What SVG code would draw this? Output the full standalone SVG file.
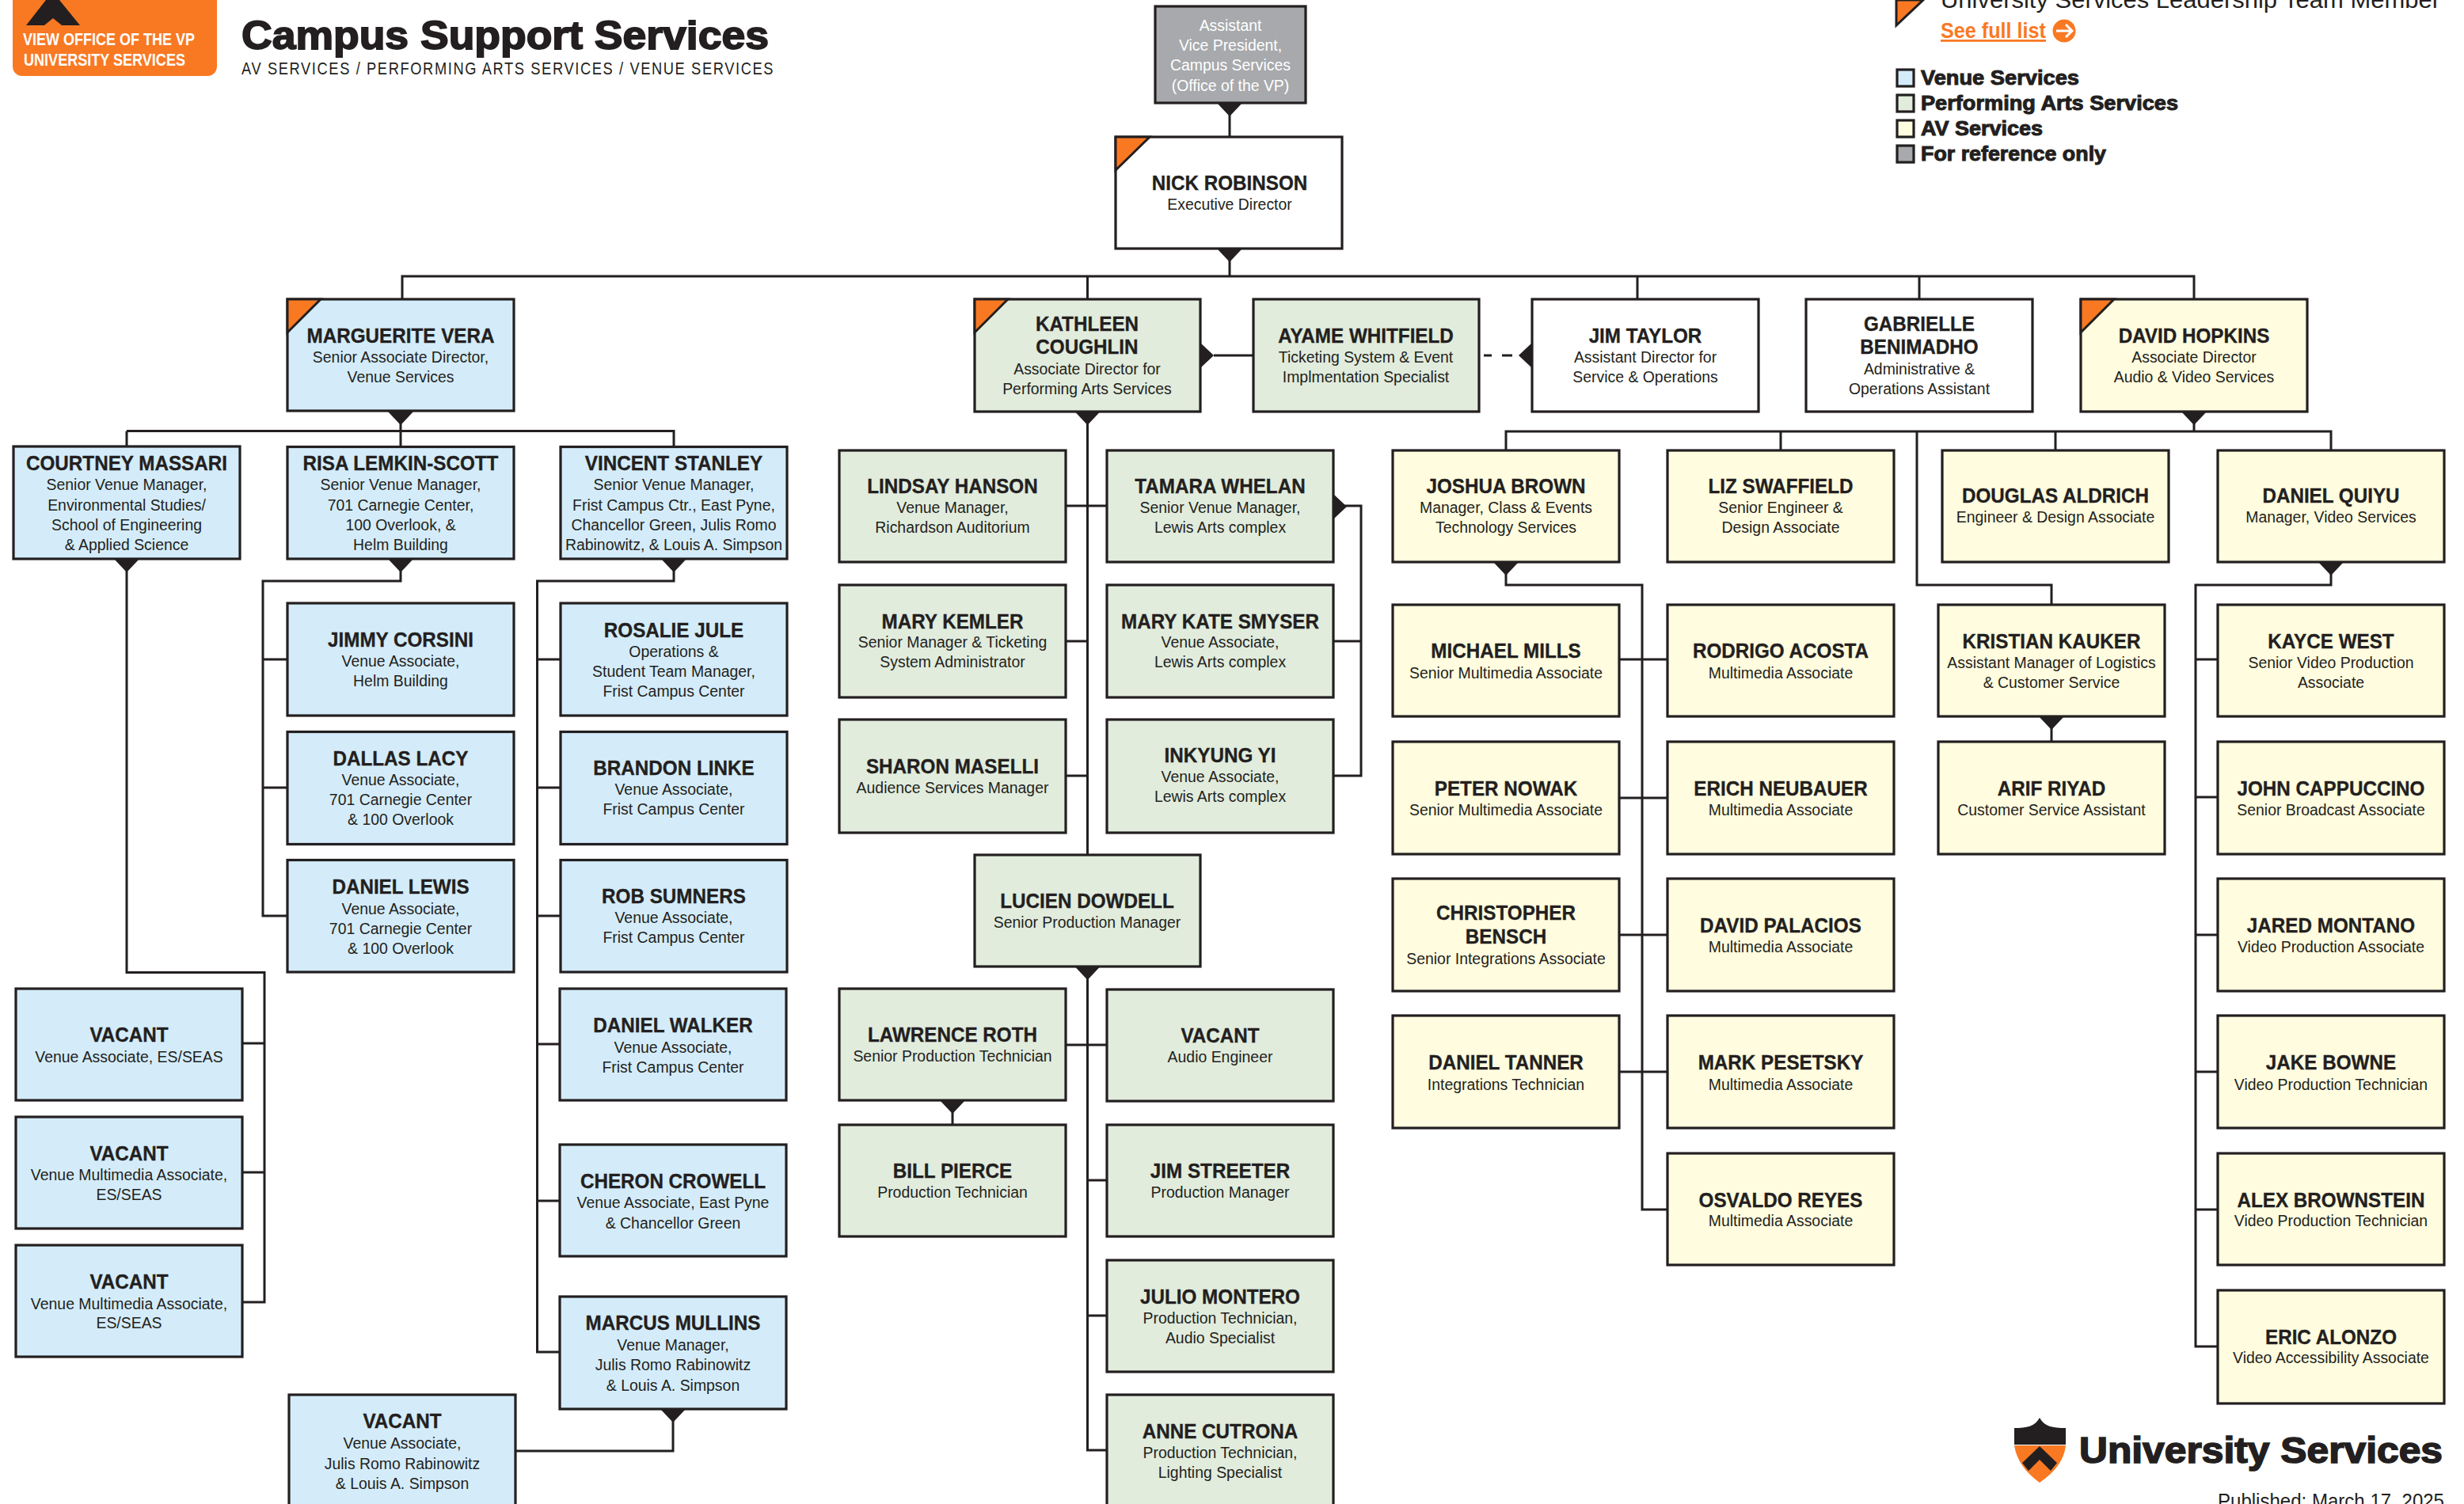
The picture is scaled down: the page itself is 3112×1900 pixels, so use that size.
<svg xmlns="http://www.w3.org/2000/svg" width="3112" height="1900" viewBox="0 0 3112 1900">
<style>
text{font-family:"Liberation Sans",Arial,sans-serif;fill:#231f20}
.n{font-size:25px;font-weight:700;text-anchor:middle;stroke:#231f20;stroke-width:.35px;transform-box:fill-box;transform-origin:center;transform:scaleX(.97)}
.s{font-size:21px;text-anchor:middle;transform-box:fill-box;transform-origin:center;transform:scaleX(.925)}
text.w{fill:#fff}
.b{stroke:#231f20;stroke-width:3.2}
.v{fill:#d4ecfa}.p{fill:#e1ecdd}.a{fill:#fffcdf}.g{fill:#a7a9ac}.o{fill:#fff}
.c{fill:#f97923;stroke:#231f20;stroke-width:3}
.l{fill:none;stroke:#231f20;stroke-width:3}
.t{fill:#231f20}
.h{font-weight:700;stroke:#231f20}
.k{font-size:26px;stroke-width:1px}
</style>
<g id="connectors">
<path class="l" d="M1553 130V172M1553 314V349M508 378V349H2771V378M1373.500 349V378M2068 349V378M2424 349V378"/>
<path class="l" d="M160 544.500H851V564M160 544.500V564M506 520V564M160 706V1228.500H334V1645H305M305 1318H334M305 1481H334"/>
<path class="l" d="M506 706V734H332V1157H363M332 833H363M332 995H363"/>
<path class="l" d="M851 706V734H678.500V1708H707M678.500 833H708M678.500 995H708M678.500 1157H708M678.500 1319H707M678.500 1517H707M850 1780V1833H651"/>
<path class="l" d="M1373.500 520V1080M1346 639H1398M1346 810H1373.500M1346 980H1373.500M1685 639H1719V980H1684M1684 810H1719"/>
<path class="l" d="M1533 449H1583"/>
<path class="l" d="M1874 449H1884M1897 449H1910"/>
<path class="l" d="M1373.500 1221V1832H1398M1346 1320H1398M1373.500 1491H1398M1373.500 1662H1398M1203 1390V1421"/>
<path class="l" d="M2771 520V545M1902 569V545H2944V569M2249 545V569M2596 545V569M2421 545V739H2591V764M2591 905V937"/>
<path class="l" d="M1902 710V739H2074V1528H2106M2044 833H2106M2044 1008H2106M2044 1181H2106M2044 1354H2106"/>
<path class="l" d="M2944 710V739H2773V1701H2801M2773 833H2801M2773 1007H2801M2773 1181H2801M2773 1354H2801M2773 1528H2801"/>
<path class="t" d="M1537 130h32l-16 17zM1537 314h32l-16 17zM490 520h32l-16 17zM144 706h32l-16 17zM490 706h32l-16 17zM835 706h32l-16 17zM834 1780h32l-16 17zM1357.500 520h32l-16 17zM1516 433v32l17-16zM1685 625v30l16-15zM1935 433v32l-17-16zM1357.500 1221h32l-16 17zM1187 1390h32l-16 17zM2755 520h32l-16 17zM1886 710h32l-16 17zM2928 710h32l-16 17zM2575 905h32l-16 17z"/>
</g>
<g id="header">
<path d="M16 0H274V84a12 12 0 0 1-12 12H28a12 12 0 0 1-12-12Z" fill="#f97923"/>
<path class="t" d="M58 0H75L101 32H78L67 23L56 32H33Z"/>
<text class="w" style="font-size:21.500px;font-weight:700" x="29" y="57" textLength="217" lengthAdjust="spacingAndGlyphs">VIEW OFFICE OF THE VP</text>
<text class="w" style="font-size:21.500px;font-weight:700" x="30" y="83" textLength="204" lengthAdjust="spacingAndGlyphs">UNIVERSITY SERVICES</text>
<text class="h" style="font-size:50px;stroke-width:1.800px" x="305" y="62" textLength="666" lengthAdjust="spacingAndGlyphs">Campus Support Services</text>
<text style="font-size:21.500px;letter-spacing:2px" transform="translate(305 94) scale(.85 1)" x="0" y="0" textLength="792" lengthAdjust="spacing">AV SERVICES / PERFORMING ARTS SERVICES / VENUE SERVICES</text>
</g>
<g id="legend">
<path class="c" d="M2395 0H2429L2395 32Z"/>
<text style="font-size:30px" x="2451" y="10" textLength="631" lengthAdjust="spacingAndGlyphs">University Services Leadership Team Member</text>
<text style="font-size:28px;font-weight:700;fill:#f97923;text-decoration:underline" x="2451" y="48" textLength="133" lengthAdjust="spacingAndGlyphs">See full list</text>
<circle cx="2607" cy="39" r="14.500" fill="#f97923"/>
<path d="M2597 39H2616M2609 31L2617 39L2609 47" fill="none" stroke="#fff" stroke-width="3"/>
<rect class="b v" x="2396" y="88" width="21" height="21"/>
<rect class="b p" x="2396" y="120" width="21" height="21"/>
<rect class="b a" x="2396" y="152" width="21" height="21"/>
<rect class="b g" x="2396" y="184" width="21" height="21"/>
<text class="h k" x="2426" y="107" textLength="200" lengthAdjust="spacingAndGlyphs">Venue Services</text>
<text class="h k" x="2426" y="139" textLength="325" lengthAdjust="spacingAndGlyphs">Performing Arts Services</text>
<text class="h k" x="2426" y="171" textLength="154" lengthAdjust="spacingAndGlyphs">AV Services</text>
<text class="h k" x="2426" y="203" textLength="234" lengthAdjust="spacingAndGlyphs">For reference only</text>
</g>
<g id="logo">
<path class="t" d="M2544 1804C2560 1804 2570 1802 2576 1791C2582 1802 2592 1804 2609 1804V1825H2544Z"/>
<path d="M2544 1826H2609C2607 1845 2595 1860 2576 1873C2558 1860 2547 1845 2544 1826Z" fill="#f97923"/>
<path class="t" d="M2576 1827L2598 1848L2590 1858L2576 1844L2562 1858L2554 1848Z"/>
<text class="h" style="font-size:46px;stroke-width:1.600px" x="2626" y="1848" textLength="459" lengthAdjust="spacingAndGlyphs">University Services</text>
<text style="font-size:25px" x="2801" y="1905" textLength="286" lengthAdjust="spacingAndGlyphs">Published: March 17, 2025</text>
</g>
<g id="n-assistant"><rect class="b g" x="1459" y="8" width="190" height="122"/><text class="s w" x="1554" y="39">Assistant</text><text class="s w" x="1554" y="64">Vice President,</text><text class="s w" x="1554" y="89">Campus Services</text><text class="s w" x="1554" y="115">(Office of the VP)</text></g>
<g id="n-nick"><rect class="b o" x="1409" y="173" width="286" height="141"/><path class="c" d="M1409 173H1452L1409 215Z"/><text class="n" x="1553" y="240">NICK ROBINSON</text><text class="s" x="1553" y="265">Executive Director</text></g>
<g id="n-marguerite"><rect class="b v" x="363" y="378" width="286" height="141"/><path class="c" d="M363 378H405L363 420Z"/><text class="n" x="506" y="433">MARGUERITE VERA</text><text class="s" x="506" y="458">Senior Associate Director,</text><text class="s" x="506" y="483">Venue Services</text></g>
<g id="n-kathleen"><rect class="b p" x="1231" y="378" width="285" height="142"/><path class="c" d="M1231 378H1273L1231 420Z"/><text class="n" x="1373" y="418">KATHLEEN</text><text class="n" x="1373" y="447">COUGHLIN</text><text class="s" x="1373" y="473">Associate Director for</text><text class="s" x="1373" y="498">Performing Arts Services</text></g>
<g id="n-ayame"><rect class="b p" x="1583" y="378" width="285" height="142"/><text class="n" x="1725" y="433">AYAME WHITFIELD</text><text class="s" x="1725" y="458">Ticketing System &amp; Event</text><text class="s" x="1725" y="483">Implmentation Specialist</text></g>
<g id="n-jim-taylor"><rect class="b o" x="1935" y="378" width="286" height="142"/><text class="n" x="2078" y="433">JIM TAYLOR</text><text class="s" x="2078" y="458">Assistant Director for</text><text class="s" x="2078" y="483">Service &amp; Operations</text></g>
<g id="n-gabrielle"><rect class="b o" x="2281" y="378" width="286" height="142"/><text class="n" x="2424" y="418">GABRIELLE</text><text class="n" x="2424" y="447">BENIMADHO</text><text class="s" x="2424" y="473">Administrative &amp;</text><text class="s" x="2424" y="498">Operations Assistant</text></g>
<g id="n-david-hopkins"><rect class="b a" x="2628" y="378" width="286" height="142"/><path class="c" d="M2628 378H2670L2628 420Z"/><text class="n" x="2771" y="433">DAVID HOPKINS</text><text class="s" x="2771" y="458">Associate Director</text><text class="s" x="2771" y="483">Audio &amp; Video Services</text></g>

<g id="n-courtney"><rect class="b v" x="17" y="564" width="286" height="142"/><text class="n" x="160" y="594">COURTNEY MASSARI</text><text class="s" x="160" y="619">Senior Venue Manager,</text><text class="s" x="160" y="645">Environmental Studies/</text><text class="s" x="160" y="670">School of Engineering</text><text class="s" x="160" y="695">&amp; Applied Science</text></g>
<g id="n-risa"><rect class="b v" x="363" y="564.500" width="286" height="141.500"/><text class="n" x="506" y="594">RISA LEMKIN-SCOTT</text><text class="s" x="506" y="619">Senior Venue Manager,</text><text class="s" x="506" y="645">701 Carnegie Center,</text><text class="s" x="506" y="670">100 Overlook, &amp;</text><text class="s" x="506" y="695">Helm Building</text></g>
<g id="n-vincent"><rect class="b v" x="708" y="564.500" width="286" height="141.500"/><text class="n" x="851" y="594">VINCENT STANLEY</text><text class="s" x="851" y="619">Senior Venue Manager,</text><text class="s" x="851" y="645">Frist Campus Ctr., East Pyne,</text><text class="s" x="851" y="670">Chancellor Green, Julis Romo</text><text class="s" x="851" y="695">Rabinowitz, &amp; Louis A. Simpson</text></g>
<g id="n-jimmy"><rect class="b v" x="363" y="762" width="286" height="142"/><text class="n" x="506" y="817">JIMMY CORSINI</text><text class="s" x="506" y="842">Venue Associate,</text><text class="s" x="506" y="867">Helm Building</text></g>
<g id="n-dallas"><rect class="b v" x="363" y="924.500" width="286" height="142"/><text class="n" x="506" y="967">DALLAS LACY</text><text class="s" x="506" y="992">Venue Associate,</text><text class="s" x="506" y="1017">701 Carnegie Center</text><text class="s" x="506" y="1042">&amp; 100 Overlook</text></g>
<g id="n-daniel-lewis"><rect class="b v" x="363" y="1086.500" width="286" height="141.500"/><text class="n" x="506" y="1129">DANIEL LEWIS</text><text class="s" x="506" y="1155">Venue Associate,</text><text class="s" x="506" y="1180">701 Carnegie Center</text><text class="s" x="506" y="1205">&amp; 100 Overlook</text></g>
<g id="n-rosalie"><rect class="b v" x="708" y="762" width="286" height="142"/><text class="n" x="851" y="805">ROSALIE JULE</text><text class="s" x="851" y="830">Operations &amp;</text><text class="s" x="851" y="855">Student Team Manager,</text><text class="s" x="851" y="880">Frist Campus Center</text></g>
<g id="n-brandon"><rect class="b v" x="708" y="924.500" width="286" height="142"/><text class="n" x="851" y="979">BRANDON LINKE</text><text class="s" x="851" y="1004">Venue Associate,</text><text class="s" x="851" y="1029">Frist Campus Center</text></g>
<g id="n-rob"><rect class="b v" x="708" y="1086.500" width="286" height="141.500"/><text class="n" x="851" y="1141">ROB SUMNERS</text><text class="s" x="851" y="1166">Venue Associate,</text><text class="s" x="851" y="1191">Frist Campus Center</text></g>
<g id="n-walker"><rect class="b v" x="707" y="1249" width="286" height="141"/><text class="n" x="850" y="1304">DANIEL WALKER</text><text class="s" x="850" y="1330">Venue Associate,</text><text class="s" x="850" y="1355">Frist Campus Center</text></g>
<g id="n-cheron"><rect class="b v" x="707" y="1446" width="286" height="141"/><text class="n" x="850" y="1501">CHERON CROWELL</text><text class="s" x="850" y="1526">Venue Associate, East Pyne</text><text class="s" x="850" y="1552">&amp; Chancellor Green</text></g>
<g id="n-marcus"><rect class="b v" x="707" y="1638" width="286" height="142"/><text class="n" x="850" y="1680">MARCUS MULLINS</text><text class="s" x="850" y="1706">Venue Manager,</text><text class="s" x="850" y="1731">Julis Romo Rabinowitz</text><text class="s" x="850" y="1757">&amp; Louis A. Simpson</text></g>
<g id="n-vacant-1"><rect class="b v" x="20" y="1249" width="286" height="141"/><text class="n" x="163" y="1316">VACANT</text><text class="s" x="163" y="1342">Venue Associate, ES/SEAS</text></g>
<g id="n-vacant-2"><rect class="b v" x="20" y="1411" width="286" height="141"/><text class="n" x="163" y="1466">VACANT</text><text class="s" x="163" y="1491">Venue Multimedia Associate,</text><text class="s" x="163" y="1516">ES/SEAS</text></g>
<g id="n-vacant-3"><rect class="b v" x="20" y="1573" width="286" height="141"/><text class="n" x="163" y="1628">VACANT</text><text class="s" x="163" y="1654">Venue Multimedia Associate,</text><text class="s" x="163" y="1678">ES/SEAS</text></g>
<g id="n-vacant-4"><rect class="b v" x="365" y="1762" width="286" height="142"/><text class="n" x="508" y="1804">VACANT</text><text class="s" x="508" y="1830">Venue Associate,</text><text class="s" x="508" y="1856">Julis Romo Rabinowitz</text><text class="s" x="508" y="1881">&amp; Louis A. Simpson</text></g>

<g id="n-lindsay"><rect class="b p" x="1060" y="569" width="286" height="141"/><text class="n" x="1203" y="623">LINDSAY HANSON</text><text class="s" x="1203" y="648">Venue Manager,</text><text class="s" x="1203" y="673">Richardson Auditorium</text></g>
<g id="n-tamara"><rect class="b p" x="1398" y="569" width="286" height="141"/><text class="n" x="1541" y="623">TAMARA WHELAN</text><text class="s" x="1541" y="648">Senior Venue Manager,</text><text class="s" x="1541" y="673">Lewis Arts complex</text></g>
<g id="n-mary-kemler"><rect class="b p" x="1060" y="739" width="286" height="142"/><text class="n" x="1203" y="794">MARY KEMLER</text><text class="s" x="1203" y="818">Senior Manager &amp; Ticketing</text><text class="s" x="1203" y="843">System Administrator</text></g>
<g id="n-mary-kate"><rect class="b p" x="1398" y="739" width="286" height="142"/><text class="n" x="1541" y="794">MARY KATE SMYSER</text><text class="s" x="1541" y="818">Venue Associate,</text><text class="s" x="1541" y="843">Lewis Arts complex</text></g>
<g id="n-sharon"><rect class="b p" x="1060" y="909" width="286" height="143"/><text class="n" x="1203" y="977">SHARON MASELLI</text><text class="s" x="1203" y="1002">Audience Services Manager</text></g>
<g id="n-inkyung"><rect class="b p" x="1398" y="909" width="286" height="143"/><text class="n" x="1541" y="963">INKYUNG YI</text><text class="s" x="1541" y="988">Venue Associate,</text><text class="s" x="1541" y="1013">Lewis Arts complex</text></g>
<g id="n-lucien"><rect class="b p" x="1231" y="1080" width="285" height="141"/><text class="n" x="1373" y="1147">LUCIEN DOWDELL</text><text class="s" x="1373" y="1172">Senior Production Manager</text></g>
<g id="n-lawrence"><rect class="b p" x="1060" y="1249" width="286" height="141"/><text class="n" x="1203" y="1316">LAWRENCE ROTH</text><text class="s" x="1203" y="1341">Senior Production Technician</text></g>
<g id="n-vacant-audio"><rect class="b p" x="1398" y="1250" width="286" height="141"/><text class="n" x="1541" y="1317">VACANT</text><text class="s" x="1541" y="1342">Audio Engineer</text></g>
<g id="n-bill"><rect class="b p" x="1060" y="1421" width="286" height="141"/><text class="n" x="1203" y="1488">BILL PIERCE</text><text class="s" x="1203" y="1513">Production Technician</text></g>
<g id="n-jim-streeter"><rect class="b p" x="1398" y="1421" width="286" height="141"/><text class="n" x="1541" y="1488">JIM STREETER</text><text class="s" x="1541" y="1513">Production Manager</text></g>
<g id="n-julio"><rect class="b p" x="1398" y="1592" width="286" height="141"/><text class="n" x="1541" y="1647">JULIO MONTERO</text><text class="s" x="1541" y="1672">Production Technician,</text><text class="s" x="1541" y="1697">Audio Specialist</text></g>
<g id="n-anne"><rect class="b p" x="1398" y="1762" width="286" height="142"/><text class="n" x="1541" y="1817">ANNE CUTRONA</text><text class="s" x="1541" y="1842">Production Technician,</text><text class="s" x="1541" y="1867">Lighting Specialist</text></g>

<g id="n-joshua"><rect class="b a" x="1759" y="569" width="286" height="141"/><text class="n" x="1902" y="623">JOSHUA BROWN</text><text class="s" x="1902" y="648">Manager, Class &amp; Events</text><text class="s" x="1902" y="673">Technology Services</text></g>
<g id="n-liz"><rect class="b a" x="2106" y="569" width="286" height="141"/><text class="n" x="2249" y="623">LIZ SWAFFIELD</text><text class="s" x="2249" y="648">Senior Engineer &amp;</text><text class="s" x="2249" y="673">Design Associate</text></g>
<g id="n-douglas"><rect class="b a" x="2453" y="569" width="286" height="141"/><text class="n" x="2596" y="635">DOUGLAS ALDRICH</text><text class="s" x="2596" y="660">Engineer &amp; Design Associate</text></g>
<g id="n-quiu"><rect class="b a" x="2801" y="569" width="286" height="141"/><text class="n" x="2944" y="635">DANIEL QUIYU</text><text class="s" x="2944" y="660">Manager, Video Services</text></g>
<g id="n-michael"><rect class="b a" x="1759" y="764" width="286" height="141"/><text class="n" x="1902" y="831">MICHAEL MILLS</text><text class="s" x="1902" y="857">Senior Multimedia Associate</text></g>
<g id="n-rodrigo"><rect class="b a" x="2106" y="764" width="286" height="141"/><text class="n" x="2249" y="831">RODRIGO ACOSTA</text><text class="s" x="2249" y="857">Multimedia Associate</text></g>
<g id="n-kristian"><rect class="b a" x="2448" y="764" width="286" height="141"/><text class="n" x="2591" y="819">KRISTIAN KAUKER</text><text class="s" x="2591" y="844">Assistant Manager of Logistics</text><text class="s" x="2591" y="869">&amp; Customer Service</text></g>
<g id="n-kayce"><rect class="b a" x="2801" y="764" width="286" height="141"/><text class="n" x="2944" y="819">KAYCE WEST</text><text class="s" x="2944" y="844">Senior Video Production</text><text class="s" x="2944" y="869">Associate</text></g>
<g id="n-peter"><rect class="b a" x="1759" y="937" width="286" height="142"/><text class="n" x="1902" y="1005">PETER NOWAK</text><text class="s" x="1902" y="1030">Senior Multimedia Associate</text></g>
<g id="n-erich"><rect class="b a" x="2106" y="937" width="286" height="142"/><text class="n" x="2249" y="1005">ERICH NEUBAUER</text><text class="s" x="2249" y="1030">Multimedia Associate</text></g>
<g id="n-arif"><rect class="b a" x="2448" y="937" width="286" height="142"/><text class="n" x="2591" y="1005">ARIF RIYAD</text><text class="s" x="2591" y="1030">Customer Service Assistant</text></g>
<g id="n-john"><rect class="b a" x="2801" y="937" width="286" height="142"/><text class="n" x="2944" y="1005">JOHN CAPPUCCINO</text><text class="s" x="2944" y="1030">Senior Broadcast Associate</text></g>
<g id="n-christopher"><rect class="b a" x="1759" y="1110" width="286" height="142"/><text class="n" x="1902" y="1162">CHRISTOPHER</text><text class="n" x="1902" y="1192">BENSCH</text><text class="s" x="1902" y="1218">Senior Integrations Associate</text></g>
<g id="n-palacios"><rect class="b a" x="2106" y="1110" width="286" height="142"/><text class="n" x="2249" y="1178">DAVID PALACIOS</text><text class="s" x="2249" y="1203">Multimedia Associate</text></g>
<g id="n-jared"><rect class="b a" x="2801" y="1110" width="286" height="142"/><text class="n" x="2944" y="1178">JARED MONTANO</text><text class="s" x="2944" y="1203">Video Production Associate</text></g>
<g id="n-tanner"><rect class="b a" x="1759" y="1283" width="286" height="142"/><text class="n" x="1902" y="1351">DANIEL TANNER</text><text class="s" x="1902" y="1377">Integrations Technician</text></g>
<g id="n-mark"><rect class="b a" x="2106" y="1283" width="286" height="142"/><text class="n" x="2249" y="1351">MARK PESETSKY</text><text class="s" x="2249" y="1377">Multimedia Associate</text></g>
<g id="n-jake"><rect class="b a" x="2801" y="1283" width="286" height="142"/><text class="n" x="2944" y="1351">JAKE BOWNE</text><text class="s" x="2944" y="1377">Video Production Technician</text></g>
<g id="n-osvaldo"><rect class="b a" x="2106" y="1457" width="286" height="141"/><text class="n" x="2249" y="1525">OSVALDO REYES</text><text class="s" x="2249" y="1549">Multimedia Associate</text></g>
<g id="n-alex"><rect class="b a" x="2801" y="1457" width="286" height="141"/><text class="n" x="2944" y="1525">ALEX BROWNSTEIN</text><text class="s" x="2944" y="1549">Video Production Technician</text></g>
<g id="n-eric"><rect class="b a" x="2801" y="1630" width="286" height="143"/><text class="n" x="2944" y="1698">ERIC ALONZO</text><text class="s" x="2944" y="1722">Video Accessibility Associate</text></g>
</svg>
